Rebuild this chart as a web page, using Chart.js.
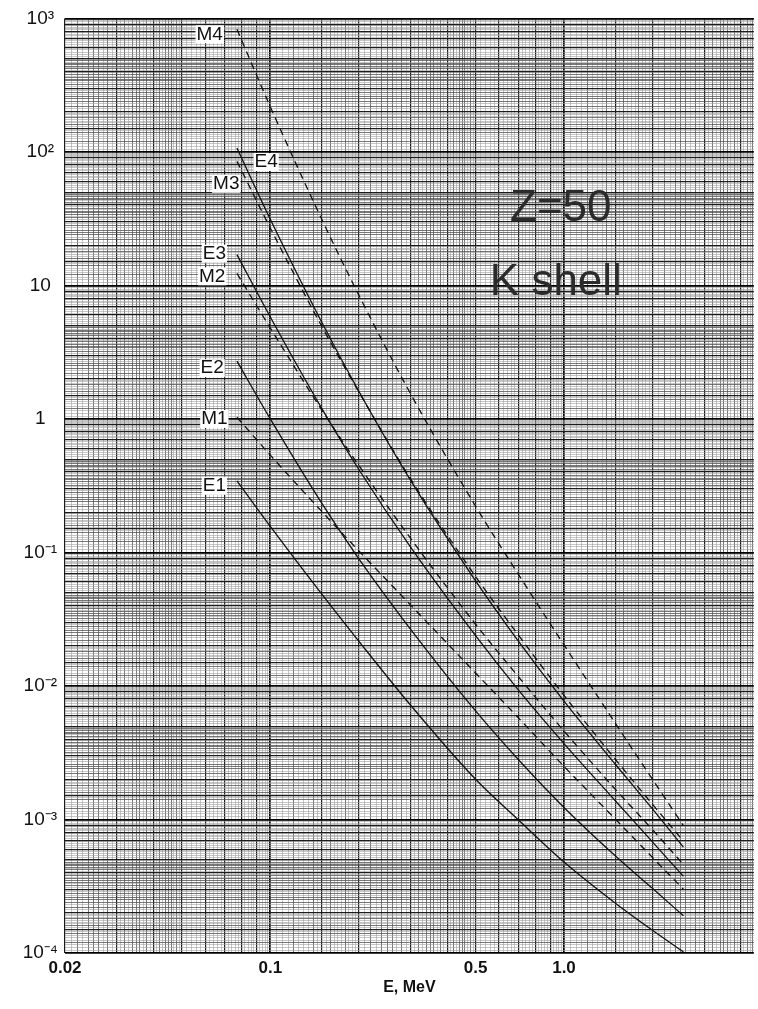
<!DOCTYPE html>
<html lang="en">
<head>
<meta charset="UTF-8">
<title>K shell conversion coefficients, Z=50</title>
<script src="https://cdn.jsdelivr.net/npm/chart.js@4.4.0/dist/chart.umd.min.js"></script>
<style>
  html, body { margin: 0; padding: 0; background: #fff; }
  canvas { display: block; }
</style>
</head>
<body>
<canvas id="icc" width="758" height="1009"></canvas>
<script>
    // transition energy, MeV
    var energies = [0.077, 0.1, 0.15, 0.2, 0.3, 0.5, 0.7, 1.0, 1.5, 2.0, 2.55];

    // K shell conversion coefficients
    var m4 = [828, 218, 31, 8.5, 1.55, 0.222, 0.0683, 0.0203, 5.2e-3, 2.0e-3, 9.0e-4];
    var e4 = [107, 31.3, 5.25, 1.62, 0.348, 0.0613, 0.0216, 7.7e-3, 2.57e-3, 1.2e-3, 6.2e-4];
    var m3 = [85, 26.9, 4.9, 1.6, 0.357, 0.066, 0.024, 8.5e-3, 2.8e-3, 1.3e-3, 6.9e-4];
    var e3 = [17, 5.8, 1.19, 0.42, 0.11, 0.0238, 9.3e-3, 3.7e-3, 1.37e-3, 6.8e-4, 3.75e-4];
    var m2 = [12.3, 4.8, 1.16, 0.45, 0.128, 0.029, 0.0117, 4.6e-3, 1.67e-3, 8.4e-4, 4.6e-4];
    var e2 = [2.71, 1.0, 0.232, 0.09, 0.0267, 6.5e-3, 2.8e-3, 1.23e-3, 5.3e-4, 3.05e-4, 1.9e-4];
    var m1 = [1.03, 0.536, 0.202, 0.103, 0.0405, 0.0125, 5.76e-3, 2.5e-3, 1.0e-3, 5.2e-4, 3.0e-4];
    var e1 = [0.344, 0.157, 0.0485, 0.0217, 7.2e-3, 2.0e-3, 9.9e-4, 4.8e-4, 2.35e-4, 1.48e-4, 1.02e-4];

    var seriesNames = ['M4', 'E4', 'M3', 'E3', 'M2', 'E2', 'M1', 'E1'];
    var seriesValues = [m4, e4, m3, e3, m2, e2, m1, e1];

    // where the hand lettering sits, in data units [E, alpha]
    var nameSpots = [[0.0622, 760], [0.0968, 84], [0.0708, 57.7], [0.0645, 17.3], [0.0634, 11.7],
                     [0.0634, 2.4], [0.0645, 1.0], [0.0645, 0.316]];
    var noteLines = ['Z=50', 'K shell'];
    var noteSpots = [[0.975, 37.6], [0.938, 10.4]];

    var xTickLabels = [[0.02, '0.02'], [0.1, '0.1'], [0.5, '0.5'], [1, '1.0']];
    var yTickLabels = [[1e3, '10\u00b3'], [1e2, '10\u00b2'], [10, '10'], [1, '1'], [0.1, '10\u207b\u00b9'],
                       [0.01, '10\u207b\u00b2'], [1e-3, '10\u207b\u00b3'], [1e-4, '10\u207b\u2074']];

    var findLabel = function(list, v) {
        var hit = list.find(function(p) { return Math.abs(p[0] - v) / p[0] < 1e-6; });
        return hit ? hit[1] : '';
    };

    // log graph paper rulings
    var mantissa = function(v) {
        var k = Math.floor(Math.log10(v) + 1e-9);
        return Math.round(v / Math.pow(10, k) * 100);
    };
    var paperTicks = function(lo, hi) {
        var out = [];
        for (var k = Math.floor(Math.log10(lo)) - 1; k <= Math.ceil(Math.log10(hi)); k++) {
            var p = Math.pow(10, k);
            for (var m = 100; m < 1000; m += (m < 200 ? 5 : m < 500 ? 10 : 20)) {
                var v = parseFloat((m / 100 * p).toPrecision(6));
                if (v >= lo * 0.99999 && v <= hi * 1.00001) out.push({value: v});
            }
        }
        return out;
    };
    var ruleKind = function(v) {
        var m = mantissa(v);
        if (m === 100) return 0;
        if (m % 100 === 0 || m === 150) return 1;
        if ((m < 500 && m % 20 === 0) || m % 50 === 0) return 2;
        return 3;
    };
    var ruleColor = function(ctx) {
        return ['#000', '#1c1c1c', '#555', '#a0a0a0'][ruleKind(ctx.tick.value)];
    };
    var ruleWidth = function(ctx) {
        return [1.7, 1.2, 0.8, 0.6][ruleKind(ctx.tick.value)];
    };

    var notesPlugin = {
        id: 'notes',
        afterDatasetsDraw: function(chart) {
            var c = chart.ctx, xs = chart.scales.x, ys = chart.scales.y;
            c.save();
            c.textAlign = 'center';
            c.textBaseline = 'middle';
            c.font = '19px "Liberation Sans", Arial, sans-serif';
            seriesNames.forEach(function(name, i) {
                var px = xs.getPixelForValue(nameSpots[i][0]);
                var py = ys.getPixelForValue(nameSpots[i][1]);
                var w = c.measureText(name).width;
                c.fillStyle = '#fff';
                c.fillRect(px - w / 2 - 1, py - 9, w + 2, 18);
                c.fillStyle = '#111';
                c.fillText(name, px, py);
            });
            c.font = '44px "Liberation Sans", Arial, sans-serif';
            c.fillStyle = '#2b2b2b';
            noteLines.forEach(function(t, i) {
                c.fillText(t, xs.getPixelForValue(noteSpots[i][0]), ys.getPixelForValue(noteSpots[i][1]));
            });
            c.restore();
        }
    };

    var datasets = seriesNames.map(function(name, i) {
        return {
            label: name,
            data: energies.map(function(e, j) { return {x: e, y: seriesValues[i][j]}; }),
            borderColor: '#111',
            borderWidth: 1.3,
            borderDash: name.charAt(0) === 'M' ? [7, 5] : [],
            pointRadius: 0,
            cubicInterpolationMode: 'monotone',
            fill: false
        };
    });

    var ctx = document.getElementById('icc').getContext('2d');
    var chart = new Chart(ctx, {
        type: 'line',
        data: {datasets: datasets},
        options: {
            responsive: false,
            animation: false,
            devicePixelRatio: 1,
            layout: {padding: {top: 16, right: 1, left: 0, bottom: 0}},
            plugins: {legend: {display: false}, tooltip: {enabled: false}},
            scales: {
                x: {
                    type: 'logarithmic',
                    min: 0.02,
                    max: 4.43,
                    afterBuildTicks: function(scale) { scale.ticks = paperTicks(0.02, 4.43); },
                    afterFit: function(scale) { scale.height = 56; },
                    grid: {color: ruleColor, lineWidth: ruleWidth, drawTicks: false},
                    border: {display: false},
                    ticks: {
                        autoSkip: false,
                        maxRotation: 0,
                        padding: 5,
                        color: '#111',
                        font: {family: '"Liberation Sans", Arial, sans-serif', size: 17, weight: 'bold'},
                        callback: function(v) { return findLabel(xTickLabels, v); }
                    },
                    title: {
                        display: true,
                        text: 'E, MeV',
                        color: '#111',
                        padding: {top: 0, bottom: 12},
                        font: {family: '"Liberation Sans", Arial, sans-serif', size: 16, weight: 'bold'}
                    }
                },
                y: {
                    type: 'logarithmic',
                    min: 1e-4,
                    max: 1e3,
                    afterBuildTicks: function(scale) { scale.ticks = paperTicks(1e-4, 1e3); },
                    afterFit: function(scale) { scale.width = 65; },
                    grid: {color: ruleColor, lineWidth: ruleWidth, drawTicks: false},
                    border: {display: false},
                    ticks: {
                        autoSkip: false,
                        padding: 7,
                        crossAlign: 'center',
                        color: '#111',
                        font: {family: '"Liberation Sans", Arial, sans-serif', size: 19},
                        callback: function(v) { return findLabel(yTickLabels, v); }
                    }
                }
            }
        },
        plugins: [notesPlugin]
    });
</script>
</body>
</html>
